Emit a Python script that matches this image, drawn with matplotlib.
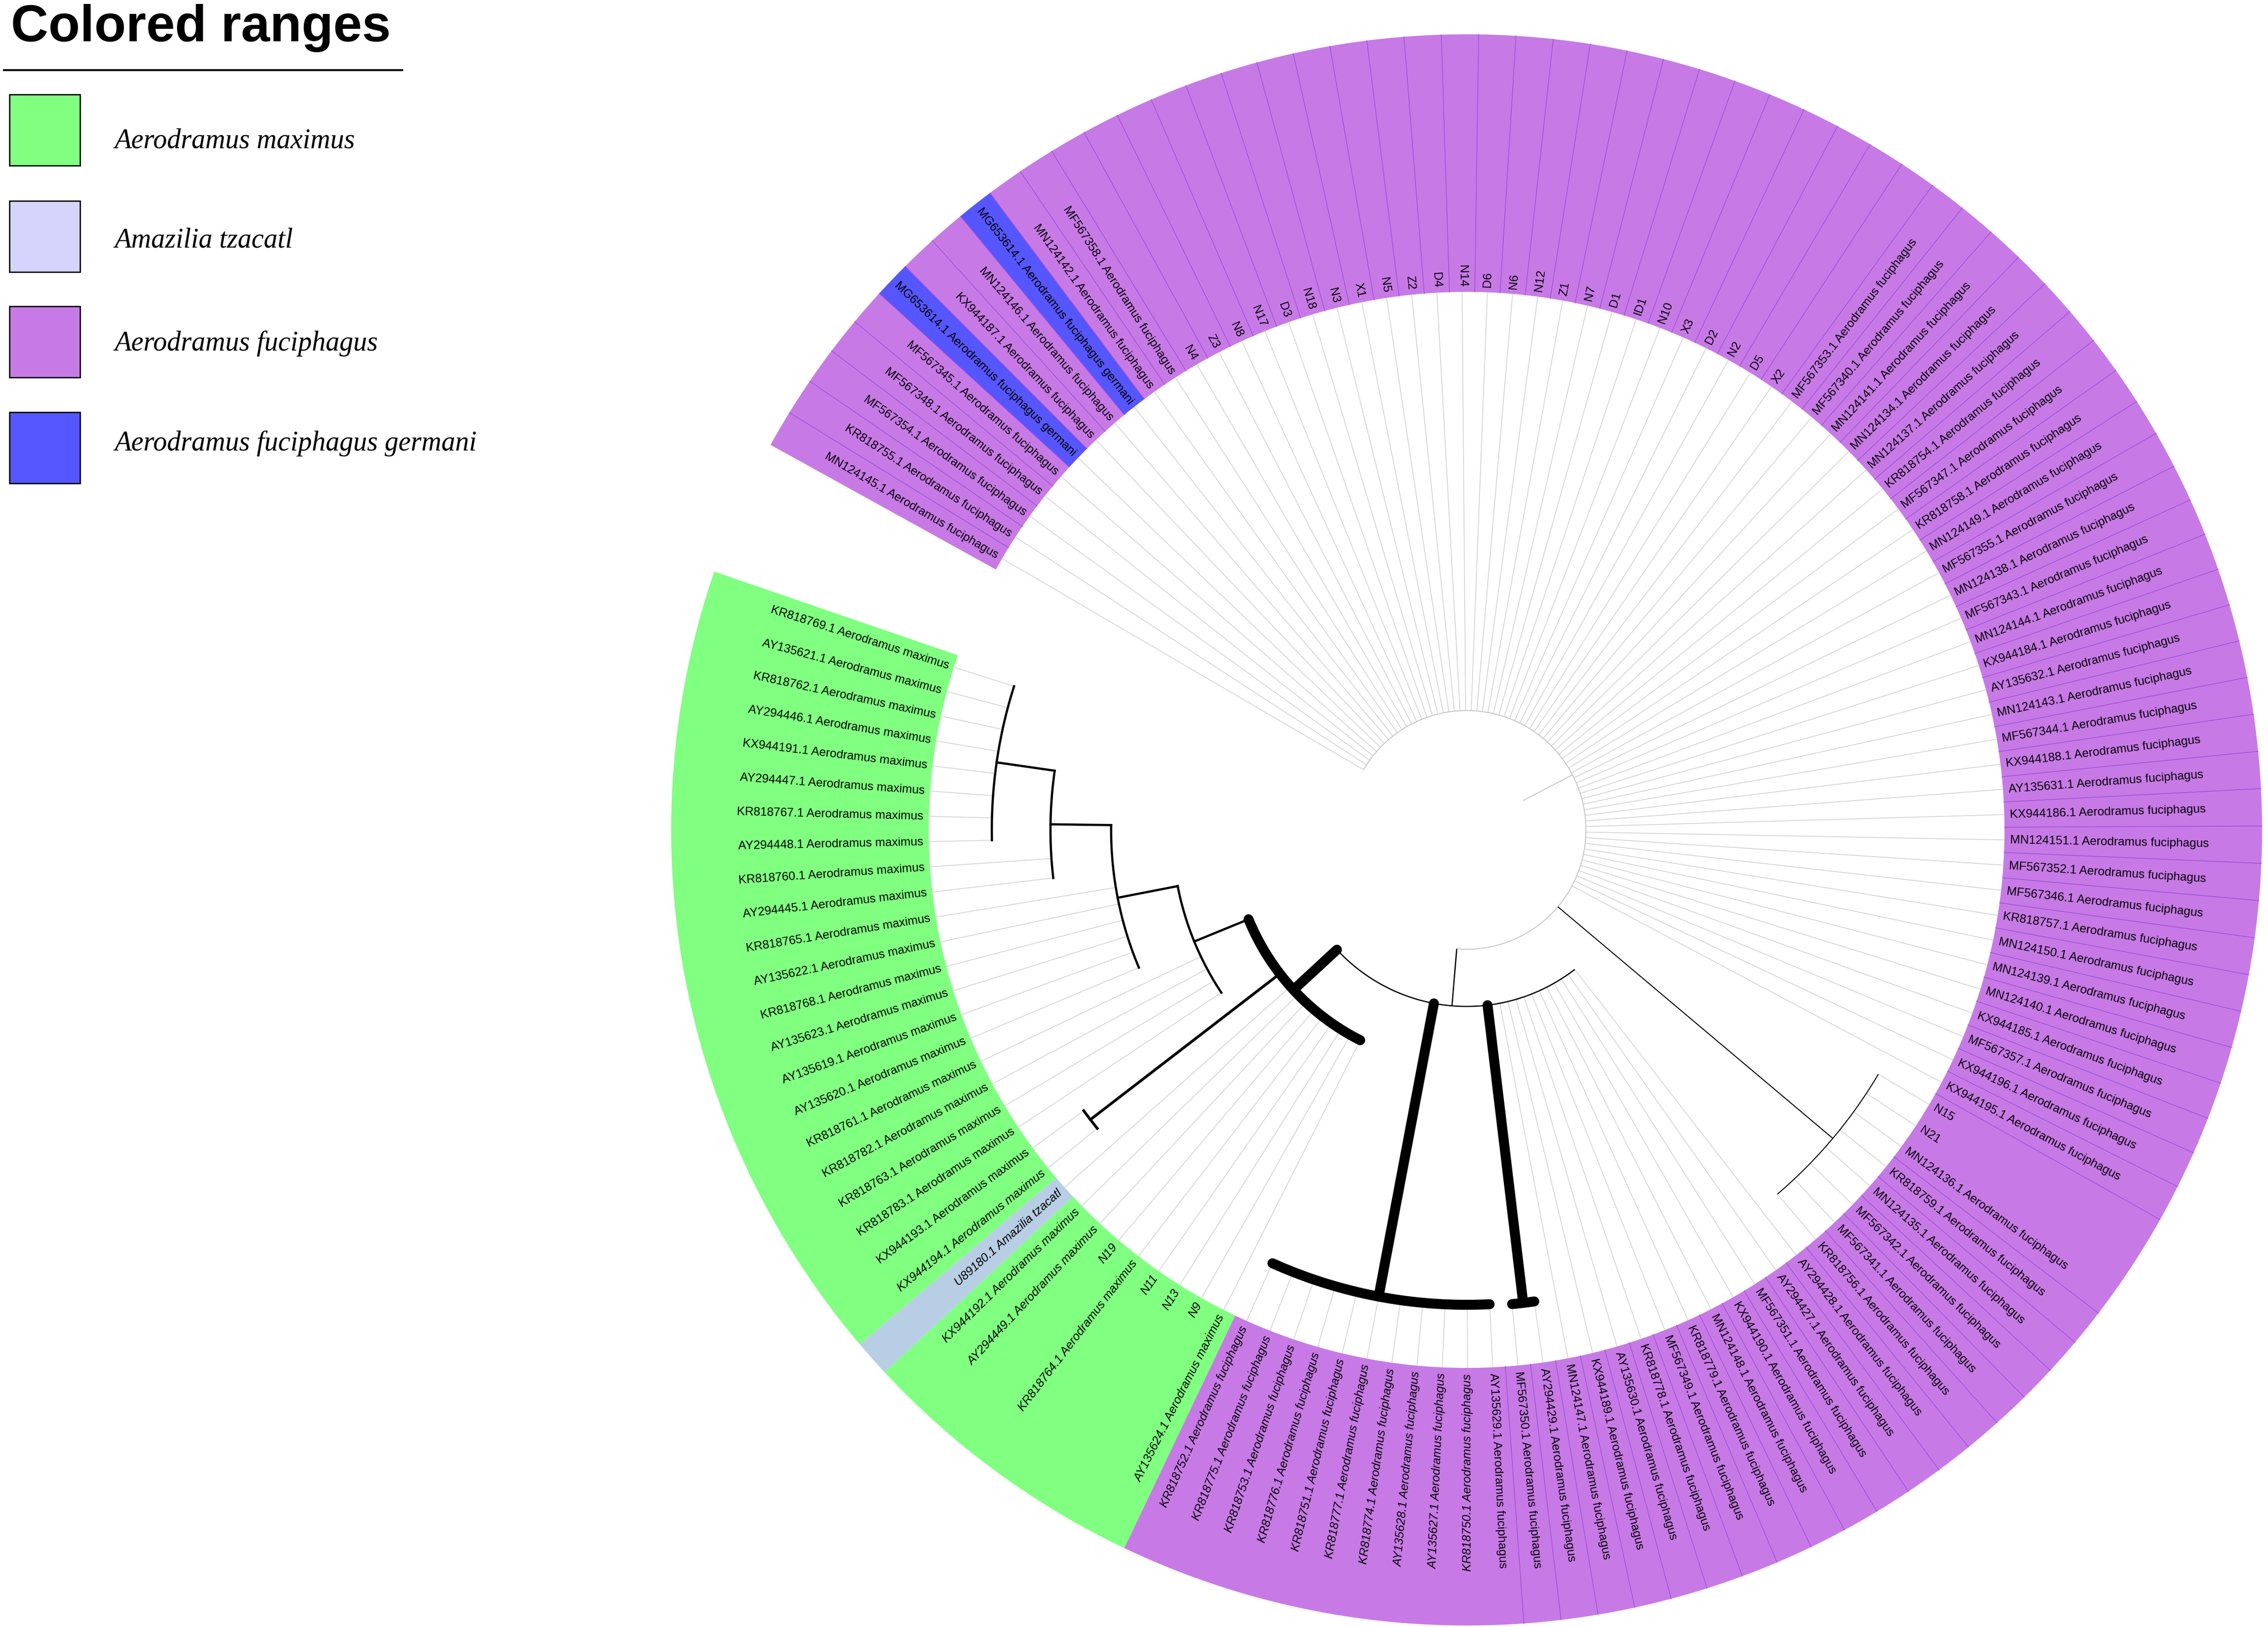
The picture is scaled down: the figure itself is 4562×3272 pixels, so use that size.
import numpy as np
import matplotlib
matplotlib.use("Agg")
import matplotlib.pyplot as plt
from matplotlib.patches import Wedge, Rectangle

W, H, DPI = 4562, 3273, 100

# ---------------- data ----------------
leaf_ids = [
    "KR818769.1", "AY135621.1", "KR818762.1", "AY294446.1", "KX944191.1", "AY294447.1",
    "KR818767.1", "AY294448.1", "KR818760.1", "AY294445.1", "KR818765.1", "AY135622.1",
    "KR818768.1", "AY135623.1", "AY135619.1", "AY135620.1", "KR818761.1", "KR818782.1",
    "KR818763.1", "KR818783.1", "KX944193.1", "KX944194.1", "U89180.1", "KX944192.1",
    "AY294449.1", "N19", "KR818764.1", "N11", "N13", "N9", "AY135624.1",
    "KR818752.1", "KR818775.1", "KR818753.1", "KR818776.1", "KR818751.1", "KR818777.1",
    "KR818774.1", "AY135628.1", "AY135627.1", "KR818750.1", "AY135629.1", "MF567350.1",
    "AY294429.1", "MN124147.1", "KX944189.1", "AY135630.1", "KR818778.1", "MF567349.1",
    "KR818779.1", "MN124148.1", "KX944190.1", "MF567351.1", "AY294427.1", "AY294428.1",
    "KR818756.1", "MF567341.1", "MF567342.1", "MN124135.1", "KR818759.1", "MN124136.1",
    "N21", "N15", "KX944195.1", "KX944196.1", "MF567357.1", "KX944185.1", "MN124140.1",
    "MN124139.1", "MN124150.1", "KR818757.1", "MF567346.1", "MF567352.1", "MN124151.1",
    "KX944186.1", "AY135631.1", "KX944188.1", "MF567344.1", "MN124143.1", "AY135632.1",
    "KX944184.1", "MN124144.1", "MF567343.1", "MN124138.1", "MF567355.1", "MN124149.1",
    "KR818758.1", "MF567347.1", "KR818754.1", "MN124137.1", "MN124134.1", "MN124141.1",
    "MF567340.1", "MF567353.1", "X2", "D5", "N2", "D2", "X3", "N10", "ID1", "D1", "N7",
    "Z1", "N12", "N6", "D6", "N14", "D4", "Z2", "N5", "X1", "N3", "N18", "D3", "N17",
    "N8", "Z3", "N4", "MF567358.1", "MN124142.1", "MG653614.1", "MN124146.1",
    "KX944187.1", "MG653614.1", "MF567345.1", "MF567348.1", "MF567354.1", "KR818755.1",
    "MN124145.1",
]
short_ids = {"N19", "N11", "N13", "N9", "N21", "N15", "X2", "D5", "N2", "D2", "X3", "N10",
             "ID1", "D1", "N7", "Z1", "N12", "N6", "D6", "N14", "D4", "Z2", "N5", "X1",
             "N3", "N18", "D3", "N17", "N8", "Z3", "N4"}

species_names = {"max": "Aerodramus maximus", "ama": "Amazilia tzacatl",
                 "fuc": "Aerodramus fuciphagus", "ger": "Aerodramus fuciphagus germani"}
# colored ranges: (first leaf, last leaf, group)   (1-based leaf numbers)
group_runs = [(1, 22, "max"), (23, 23, "ama"), (24, 31, "max"), (32, 121, "fuc"),
              (122, 122, "ger"), (123, 124, "fuc"), (125, 125, "ger"), (126, 130, "fuc")]
# ranges drawn as one block (no separators inside)
merged_blocks = [(1, 22), (24, 31), (32, 42), (61, 63)]
italic_leaves = (22, 41)

# tree: node -> (radius in px from centre, children); ints are leaf numbers
tree_nodes = {
    "root":  (240, ["n355", "n963"] + list(range(64, 131))),
    "n355":  (355, ["n474", "n955c", "n958d"] + list(range(45, 56))),
    "n474":  (474, ["n592", "n955b"] + list(range(23, 32))),
    "n592":  (592, ["n715"] + list(range(17, 21))),
    "n715":  (715, ["n837"] + list(range(11, 17))),
    "n837":  (837, ["n955a", 9, 10]),
    "n955a": (955, list(range(1, 9))),
    "n955b": (955, [21, 22]),
    "n955c": (955, list(range(32, 43))),
    "n958d": (958, [43, 44]),
    "n963":  (963, list(range(56, 64))),
}
root_stub_r = 128

legend_items = ["Aerodramus maximus", "Amazilia tzacatl",
                "Aerodramus fuciphagus", "Aerodramus fuciphagus germani"]

# ---------------- styles / geometry ----------------
CX, CY = 2950, H - 1670
THETA0, STEP = 162.4, 2.6923
R_IN, R_OUT, R_LAB = 1082, 1600, 1093
PX = 72.0 / DPI

range_colors = {"max": "#80ff80", "ama": "#b8cee4", "fuc": "#c77ae6", "ger": "#5656ff"}
legend_colors = ["#80ff80", "#d4d4fc", "#c77ae6", "#5656ff"]
node_style = {
    "root": ("#c8c8c8", 2.0, "butt"),
    "n355": ("black", 2.5, "butt"),
    "n474": ("black", 20, "round"),
    "n592": ("black", 4.5, "projecting"),
    "n715": ("black", 4.5, "projecting"),
    "n837": ("black", 4.5, "projecting"),
    "n955a": ("black", 4.5, "projecting"),
    "n955b": ("black", 5.5, "projecting"),
    "n955c": ("black", 20, "round"),
    "n958d": ("black", 20, "round"),
    "n963": ("black", 2.0, "butt"),
}

fig = plt.figure(figsize=(W / DPI, H / DPI), dpi=DPI)
ax = fig.add_axes([0, 0, 1, 1])
ax.set_xlim(0, W)
ax.set_ylim(0, H)
ax.axis("off")


def theta(i):
    return THETA0 + (i - 1) * STEP


def pol(r, th):
    t = np.deg2rad(th)
    return CX + r * np.cos(t), CY + r * np.sin(t)


def group_of(i):
    for a, b, g in group_runs:
        if a <= i <= b:
            return g
    return None


# ---------------- colored ranges ----------------
blocks = []
i = 1
n = len(leaf_ids)
while i <= n:
    blk = None
    for a, b in merged_blocks:
        if a == i:
            blk = (a, b)
    if blk is None:
        blk = (i, i)
    blocks.append(blk)
    i = blk[1] + 1

for a, b in blocks:
    g = group_of(a)
    t1 = theta(a) - STEP / 2
    t2 = theta(b) + STEP / 2
    ax.add_patch(Wedge((CX, CY), R_OUT, t1, t2, width=R_OUT - R_IN,
                       facecolor=range_colors[g], edgecolor="none", zorder=1))

for (a1, b1), (a2, b2) in zip(blocks[:-1], blocks[1:]):
    g1, g2 = group_of(b1), group_of(a2)
    if g1 in ("fuc", "ger") and g2 in ("fuc", "ger"):
        tb = theta(b1) + STEP / 2
        x0, y0 = pol(R_IN, tb)
        x1, y1 = pol(R_OUT, tb)
        ax.plot([x0, x1], [y0, y1], color="#9a48d8", lw=1.3 * PX, zorder=1.5)


# ---------------- tree ----------------
def ang(node):
    if isinstance(node, int):
        return theta(node)
    ch = [ang(c) for c in tree_nodes[node][1]]
    return (min(ch) + max(ch)) / 2


def draw_arc(r, ta, tb, style, z):
    col, lw, cap = style
    ts = np.linspace(ta, tb, max(8, int(abs(tb - ta) * 4)))
    xs, ys = pol(r, ts)
    ax.plot(xs, ys, color=col, lw=lw * PX, solid_capstyle=cap, zorder=z)


def draw_radial(r0, r1, th, style, z):
    col, lw, cap = style
    x0, y0 = pol(r0, th)
    x1, y1 = pol(r1, th)
    ax.plot([x0, x1], [y0, y1], color=col, lw=lw * PX, solid_capstyle=cap, zorder=z)


def draw_node(node):
    r, children = tree_nodes[node]
    st = node_style[node]
    angs = [ang(c) for c in children]
    z = 3 if st[1] < 10 else 3.5
    draw_arc(r, min(angs), max(angs), st, z)
    for c, a in zip(children, angs):
        if isinstance(c, int):
            draw_radial(r, R_IN, a, ("#d2d2d2", 1.6, "butt"), 2)
        else:
            cst = node_style[c]
            draw_radial(r, tree_nodes[c][0], a, cst, 3 if cst[1] < 10 else 3.5)
            draw_node(c)


draw_radial(root_stub_r, tree_nodes["root"][0], ang("root"), ("#c8c8c8", 2.0, "butt"), 2)
draw_node("root")

# ---------------- leaf labels ----------------
for k, lid in enumerate(leaf_ids, start=1):
    g = group_of(k)
    label = lid if lid in short_ids else lid + " " + species_names[g]
    th = theta(k)
    tm = th % 360
    x, y = pol(R_LAB, th)
    if 90 < tm < 270.3:
        rot, ha = tm - 180, "right"
    else:
        rot, ha = (tm if tm < 90 else tm - 360), "left"
    style = "italic" if italic_leaves[0] <= k <= italic_leaves[1] else "normal"
    ax.text(x, y, label, rotation=rot, rotation_mode="anchor", ha=ha, va="center",
            fontsize=17.5, family=["Liberation Sans", "DejaVu Sans"], style=style,
            color="black", zorder=5)

# ---------------- legend ----------------
ax.text(22, H - 83, "Colored ranges", fontsize=75, fontweight="bold",
        family=["Liberation Sans", "DejaVu Sans"], ha="left", va="baseline")
ax.plot([6, 811], [H - 142, H - 142], color="black", lw=4 * PX, solid_capstyle="butt")
box_tops = [191, 405, 617, 830]
label_baselines = [297, 497, 705, 906]
for name, col, top, base in zip(legend_items, legend_colors, box_tops, label_baselines):
    ax.add_patch(Rectangle((19, H - top - 143), 142, 143, facecolor=col,
                           edgecolor="black", lw=2.6 * PX, zorder=5))
    ax.text(230, H - base, name, fontsize=40, style="italic",
            family=["Liberation Serif", "DejaVu Serif"], ha="left", va="baseline")

fig.savefig("out.png", dpi=DPI)
